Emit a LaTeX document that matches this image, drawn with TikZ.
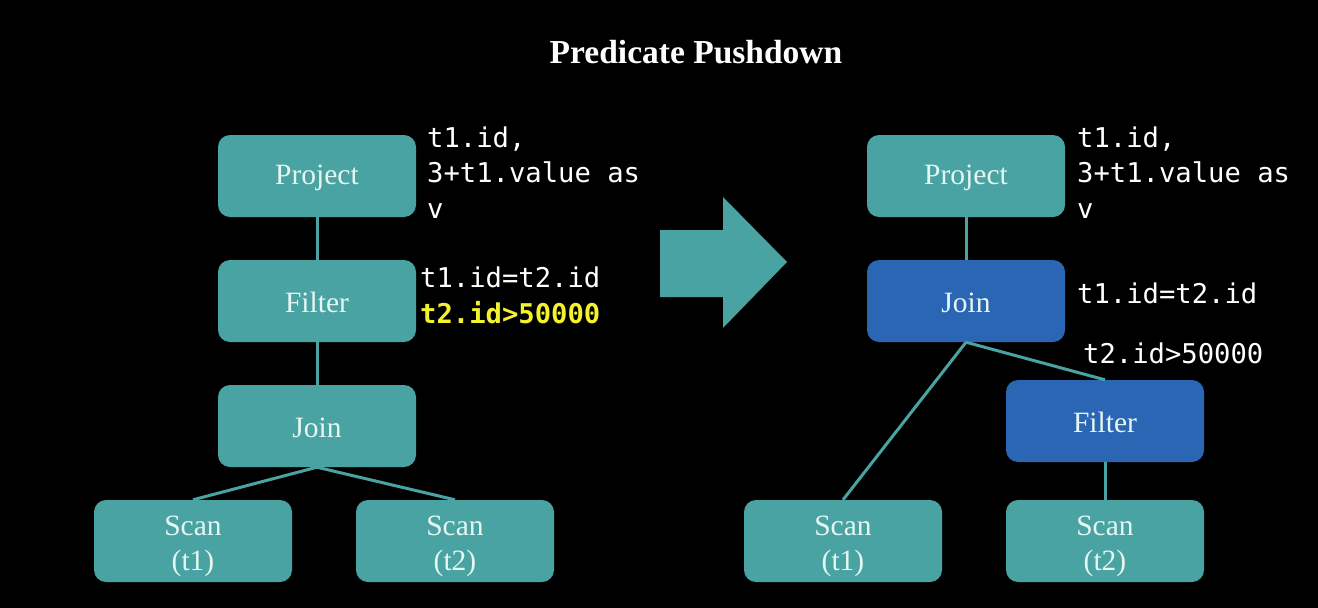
\documentclass[tikz,border=0pt]{standalone}
\usepackage{fontspec}
\setmainfont{Liberation Serif}
\newfontfamily\codefont{DejaVu Sans Mono}
\definecolor{teal1}{HTML}{4AA3A3}
\definecolor{blue1}{HTML}{2B66B5}
\definecolor{boxtext}{HTML}{E6F7F2}
\definecolor{ylw}{HTML}{F2F22E}
\newcommand\twolines[2]{\raisebox{-5pt}[\height][\depth]{\begin{tabular}{@{}c@{}}#1\\#2\end{tabular}}}
\newcommand\oneline[1]{\raisebox{-1.5pt}[\height][\depth]{#1}}
\tikzset{
  opbox/.style={rectangle, rounded corners=12pt, fill=teal1, minimum width=198pt, minimum height=82pt, inner sep=0pt, text=boxtext, font=\fontsize{29.5}{35}\selectfont},
  bluebox/.style={opbox, fill=blue1},
  link/.style={draw=teal1, line width=3pt},
  code/.style={anchor=base west, inner sep=0pt, align=left, text=white, font=\codefont\fontsize{27.2}{35.5}\selectfont},
}
\begin{document}
\begin{tikzpicture}[x=1pt,y=-1pt]
\useasboundingbox (0,0) rectangle (1318,608);
\fill[black] (0,0) rectangle (1318,608);
\node[anchor=base, text=white, inner sep=0pt, font=\bfseries\fontsize{33.5}{40}\selectfont] (title) at (696,63) {Predicate Pushdown};
% left tree
\node[opbox] (lp) at (317,176) {\oneline{Project}};
\node[opbox] (lf) at (317,301) {\oneline{Filter}};
\node[opbox] (lj) at (317,426) {\oneline{Join}};
\node[opbox] (ls1) at (193,541) {\twolines{Scan}{(t1)}};
\node[opbox] (ls2) at (455,541) {\twolines{Scan}{(t2)}};
\draw[link] (lp.south) -- (lf.north);
\draw[link] (lf.south) -- (lj.north);
\draw[link] (lj.south) -- (ls1.north);
\draw[link] (lj.south) -- (ls2.north);
\node[code] (lpt) at (427,218) {t1.id,\\3+t1.value as\\v};
\node[code] (lft) at (420,323) {t1.id=t2.id\\\textcolor{ylw}{\bfseries t2.id>50000}};
% arrow
\fill[teal1] (660,230) -- (723,230) -- (723,197) -- (787,262) -- (723,328) -- (723,297) -- (660,297) -- cycle;
% right tree
\node[opbox] (rp) at (966,176) {\oneline{Project}};
\node[bluebox] (rj) at (966,301) {\oneline{Join}};
\node[bluebox] (rf) at (1105,421) {\oneline{Filter}};
\node[opbox] (rs1) at (843,541) {\twolines{Scan}{(t1)}};
\node[opbox] (rs2) at (1105,541) {\twolines{Scan}{(t2)}};
\draw[link] (rp.south) -- (rj.north);
\draw[link] (rj.south) -- (rs1.north);
\draw[link] (rj.south) -- (rf.north);
\draw[link] (rf.south) -- (rs2.north);
\node[code] (rpt) at (1077,218) {t1.id,\\3+t1.value as\\v};
\node[code] (rjt) at (1077,303) {t1.id=t2.id};
\node[code] (rft) at (1083,363) {t2.id>50000};
\end{tikzpicture}
\end{document}
